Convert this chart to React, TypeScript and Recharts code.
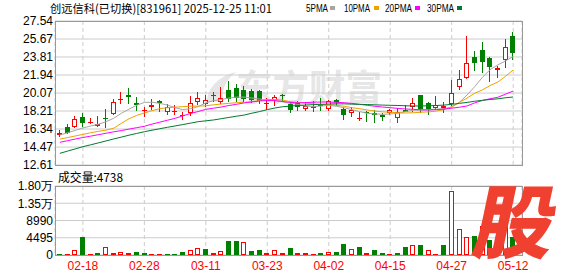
import React from "react";
import { Bar, CartesianGrid, ComposedChart, Line, XAxis, YAxis } from "recharts";

// daily candles
const opens = [15.69, 16.52, 16.58, 17.55, 16.99, 16.62, 17.47, 17.87, 19.4, 19.89, 19.07, 18.26, 18.59, 19.21, 18.14, 18.19, 17.76, 17.97, 19.15, 18.95, 19.82, 19.12, 20.39, 20.56, 20.36, 20.33, 20.28, 18.99, 19.35, 19.82, 18.92, 19.02, 18.45, 18.55, 18.85, 18.45, 19.35, 18.39, 17.97, 17.46, 18.14, 17.97, 17.79, 17.97, 17.45, 18.31, 18.59, 19.87, 19.01, 18.55, 18.49, 18.97, 20.73, 21.6, 23.78, 24.53, 23.74, 22.43, 23.46, 25.98];
const highs = [16.24, 16.83, 17.72, 17.97, 17.45, 17.65, 18.39, 19.5, 20.18, 20.63, 19.63, 18.66, 19.42, 19.35, 18.93, 18.83, 18.15, 19.72, 20.18, 19.87, 20.21, 20.65, 21.32, 21.05, 20.8, 20.45, 20.39, 19.6, 19.9, 20.02, 19.17, 19.22, 19.17, 19.25, 19.53, 19.4, 19.49, 18.59, 18.62, 18.14, 18.24, 18.31, 18.03, 18.39, 18.49, 18.83, 19.56, 19.87, 19.14, 19.76, 19.1, 21.42, 22.46, 25.98, 24.43, 25.33, 23.76, 22.91, 25.67, 26.37];
const lows = [15.48, 15.83, 16.42, 16.52, 16.86, 16.6, 16.42, 17.76, 18.97, 18.9, 18.24, 17.62, 18.28, 18.14, 17.79, 17.79, 17.32, 17.65, 18.88, 18.62, 19.15, 18.95, 19.19, 19.15, 19.1, 19.0, 18.9, 18.31, 18.7, 19.17, 17.97, 18.2, 18.18, 18.1, 18.26, 18.26, 18.7, 17.28, 17.62, 17.21, 17.1, 17.0, 17.21, 17.79, 17.0, 18.1, 18.07, 17.95, 17.79, 18.35, 18.05, 18.75, 20.39, 21.53, 22.39, 22.12, 21.18, 21.66, 22.7, 23.5];
const closes = [15.9, 15.9, 17.41, 16.99, 17.02, 16.83, 17.43, 19.11, 19.43, 19.66, 18.86, 18.3, 18.86, 19.01, 18.66, 18.23, 17.8, 19.01, 19.56, 19.4, 19.78, 19.59, 19.5, 19.6, 19.5, 19.38, 19.2, 19.03, 19.63, 19.78, 18.35, 18.6, 18.76, 18.74, 18.81, 19.28, 19.14, 17.79, 18.31, 17.5, 17.97, 17.78, 17.55, 18.31, 18.14, 18.14, 19.01, 18.39, 18.39, 18.83, 18.76, 20.08, 21.52, 23.15, 23.15, 23.32, 22.8, 22.64, 24.81, 24.19];

const ma5 = [15.72, 15.95, 16.2, 16.45, 16.65, 16.83, 17.1, 17.45, 17.97, 18.4, 18.8, 19.1, 19.12, 19.0, 18.83, 18.55, 18.35, 18.45, 18.66, 19.05, 19.28, 19.4, 19.55, 19.65, 19.65, 19.55, 19.45, 19.35, 19.28, 19.15, 19.01, 18.88, 18.72, 18.66, 18.72, 18.8, 18.7, 18.55, 18.35, 18.15, 17.97, 17.9, 17.87, 17.9, 17.97, 18.15, 18.28, 18.31, 18.35, 18.4, 18.45, 18.6, 19.11, 19.87, 20.73, 21.7, 22.5, 22.98, 23.4, 23.85];
const ma10 = [15.3, 15.45, 15.62, 15.78, 15.95, 16.1, 16.22, 16.42, 16.93, 17.4, 17.75, 18.0, 18.25, 18.45, 18.55, 18.6, 18.66, 18.7, 18.72, 18.75, 18.85, 18.93, 19.0, 19.07, 19.12, 19.17, 19.3, 19.4, 19.4, 19.35, 19.17, 19.1, 19.02, 18.95, 18.9, 18.85, 18.8, 18.7, 18.55, 18.45, 18.32, 18.2, 18.12, 18.08, 18.02, 18.0, 18.03, 18.08, 18.12, 18.2, 18.35, 18.66, 19.1, 19.55, 20.05, 20.4, 20.85, 21.2, 21.8, 22.46];
const ma20 = [14.96, 15.13, 15.3, 15.46, 15.6, 15.75, 15.9, 16.05, 16.18, 16.33, 16.48, 16.62, 16.85, 17.05, 17.25, 17.45, 17.7, 17.95, 18.15, 18.38, 18.5, 18.62, 18.78, 18.9, 19.05, 19.15, 19.25, 19.3, 19.28, 19.2, 19.1, 19.05, 19.08, 19.12, 19.14, 19.14, 19.1, 19.07, 19.0, 18.9, 18.8, 18.7, 18.62, 18.55, 18.48, 18.42, 18.38, 18.33, 18.31, 18.35, 18.4, 18.5, 18.6, 18.73, 19.05, 19.3, 19.48, 19.63, 19.95, 20.28];
const ma30 = [13.82, 14.05, 14.28, 14.51, 14.7, 14.9, 15.1, 15.31, 15.5, 15.7, 15.88, 16.06, 16.22, 16.37, 16.52, 16.66, 16.8, 16.95, 17.1, 17.19, 17.28, 17.41, 17.54, 17.67, 17.79, 17.98, 18.15, 18.35, 18.52, 18.65, 18.72, 18.78, 18.83, 18.87, 18.9, 18.93, 18.95, 18.95, 18.92, 18.9, 18.88, 18.85, 18.82, 18.8, 18.78, 18.75, 18.73, 18.73, 18.75, 18.78, 18.82, 18.9, 19.0, 19.1, 19.22, 19.32, 19.4, 19.47, 19.58, 19.66];

const volumes = [300, 300, 1300, 4650, 300, 520, 2000, 520, 780, 520, 780, 520, 300, 300, 300, 300, 780, 1300, 1740, 1560, 520, 1040, 3650, 3650, 3390, 1040, 1300, 520, 1300, 520, 1820, 520, 520, 300, 520, 780, 780, 2870, 1480, 2080, 520, 1300, 520, 300, 520, 2080, 2520, 2600, 1300, 300, 2600, 16600, 6700, 4600, 5000, 7500, 3900, 2500, 14000, 4738];
// 1 = red (up vs previous close), 0 = green
const volUp = [0, 1, 1, 0, 1, 0, 1, 1, 1, 1, 0, 0, 1, 1, 0, 0, 0, 1, 1, 0, 1, 1, 0, 0, 1, 0, 0, 1, 1, 1, 0, 1, 1, 1, 0, 1, 0, 0, 1, 0, 1, 0, 0, 1, 0, 0, 1, 0, 1, 1, 0, 1, 1, 1, 0, 1, 0, 0, 1, 0];

const tickIdx = [3, 11, 19, 27, 35, 43, 51, 59];
const tickLabels = ["02-18", "02-28", "03-11", "03-23", "04-02", "04-15", "04-27", "05-12"];
const priceTicks = [12.61, 14.47, 16.34, 18.21, 20.07, 21.94, 23.81, 25.67, 27.54];
const volTicks = [0, 4495, 8990, 13485, 17980];
const volTickLabels = ["0", "4495", "8990", "1.35万", "1.80万"];

const UP = "#ff0000";
const DOWN = "#008000";
const GRID = "#cccccc";
const axisFont = { fontSize: 12, fill: "#000", fontFamily: "Liberation Sans, Arial, sans-serif" };
const cjk = "'Noto Sans CJK SC', sans-serif";

const rows = opens.map((o, i) => ({
  i,
  open: o,
  high: highs[i],
  low: lows[i],
  close: closes[i],
  ma5: ma5[i],
  ma10: ma10[i],
  ma20: ma20[i],
  ma30: ma30[i],
  vol: volumes[i],
  up: volUp[i] === 1,
}));

function Candle(props: any) {
  const { x, y, width, height, payload } = props;
  const { open, close, high, low } = payload;
  const top = Math.min(y, y + height);
  const h = Math.abs(height);
  const py = (p: number) => top + ((high - p) / (high - low)) * h;
  const c = Math.floor(x + width / 2);
  const up = close >= open;
  const color = up ? UP : DOWN;
  const bt = Math.round(py(Math.max(open, close)));
  const bb = Math.round(py(Math.min(open, close)));
  return (
    <g>
      <line x1={c + 0.5} x2={c + 0.5} y1={Math.round(top)} y2={Math.round(top + h)} stroke={color} />
      {up && bb - bt >= 2 ? (
        <rect x={c - 1.5} y={bt + 0.5} width={4} height={bb - bt - 1} fill="#fff" stroke={color} />
      ) : (
        <rect x={c - 2} y={bt} width={5} height={Math.max(bb - bt, 1)} fill={color} />
      )}
    </g>
  );
}

function VolBar(props: any) {
  const { x, y, width, height, payload } = props;
  const c = Math.floor(x + width / 2);
  const top = Math.round(y);
  const bottom = Math.round(y + height);
  const h = Math.max(bottom - top, 1);
  if (payload.up && h >= 3) {
    return <rect x={c - 1.5} y={top + 0.5} width={4} height={h - 1} fill="#fff" stroke={UP} />;
  }
  return <rect x={c - 2} y={bottom - h} width={5} height={h} fill={payload.up ? UP : DOWN} />;
}

const legend = [
  { label: "5PMA", x: 306, w: 22, sq: 330, color: "#a6a6a6" },
  { label: "10PMA", x: 344, w: 26, sq: 374, color: "#f0a000" },
  { label: "20PMA", x: 385, w: 27, sq: 415, color: "#ff00ff" },
  { label: "30PMA", x: 427, w: 27, sq: 457, color: "#007a30" },
];

export default function App() {
  return (
    <div style={{ position: "fixed", left: 0, top: 0, width: 578, height: 276, background: "#fff", overflow: "hidden" }}>
      <svg width={578} height={276} style={{ position: "absolute", left: 0, top: 0 }}>
        <path d="M207 102 C 207 88, 219 76, 236 72 C 226 80, 221 90, 223 102 Z" fill="#e6e6e6" />
        <text x={236} y={101} fontSize={36} fontWeight={700} fill="#e6e6e6" fontFamily={cjk} textLength={146} lengthAdjust="spacingAndGlyphs">
          东方财富
        </text>
      </svg>

      <div style={{ position: "absolute", left: 0, top: 0 }}>
        <ComposedChart width={578} height={178} data={rows} margin={{ top: 21, right: 56, left: 0, bottom: 13 }}>
          <CartesianGrid vertical={false} stroke={GRID} />
          <CartesianGrid horizontal={false} stroke={GRID} strokeDasharray="4 3" />
          <XAxis dataKey="i" type="category" hide ticks={tickIdx} interval={0} padding={{ left: 1, right: 5 }} />
          <YAxis
            domain={[12.61, 27.54]}
            ticks={priceTicks}
            interval={0}
            allowDataOverflow
            width={55}
            axisLine={false}
            tickLine={false}
            tickSize={0}
            tickMargin={2}
            tick={axisFont}
            tickFormatter={(v: number) => v.toFixed(2)}
          />
          <Bar dataKey={(d: any) => [d.low, d.high]} barSize={5} shape={Candle} isAnimationActive={false} />
          <Line dataKey="ma5" stroke="#a6a6a6" strokeWidth={1} dot={false} activeDot={false} isAnimationActive={false} />
          <Line dataKey="ma10" stroke="#f0a000" strokeWidth={1} dot={false} activeDot={false} isAnimationActive={false} />
          <Line dataKey="ma20" stroke="#ff00ff" strokeWidth={1} dot={false} activeDot={false} isAnimationActive={false} />
          <Line dataKey="ma30" stroke="#007a30" strokeWidth={1} dot={false} activeDot={false} isAnimationActive={false} />
        </ComposedChart>
      </div>

      <div style={{ position: "absolute", left: 0, top: 170 }}>
        <ComposedChart width={578} height={106} data={rows} margin={{ top: 16, right: 56, left: 0, bottom: 0 }}>
          <CartesianGrid vertical={false} stroke={GRID} />
          <CartesianGrid horizontal={false} stroke={GRID} strokeDasharray="4 3" />
          <XAxis
            dataKey="i"
            type="category"
            padding={{ left: 1, right: 5 }}
            ticks={tickIdx}
            interval={0}
            height={21}
            axisLine={false}
            tickLine={false}
            tickSize={0}
            tickMargin={6}
            tick={{ ...axisFont, fill: UP }}
            tickFormatter={(v: number) => tickLabels[tickIdx.indexOf(v)]}
          />
          <YAxis
            domain={[0, 17980]}
            ticks={volTicks}
            interval={0}
            allowDataOverflow
            width={55}
            axisLine={false}
            tickLine={false}
            tickSize={0}
            tickMargin={2}
            tick={axisFont}
            tickFormatter={(v: number) => volTickLabels[volTicks.indexOf(v)]}
          />
          <Bar dataKey="vol" barSize={5} shape={VolBar} isAnimationActive={false} />
        </ComposedChart>
      </div>

      <svg width={578} height={276} style={{ position: "absolute", left: 0, top: 0, pointerEvents: "none" }}>
        <rect x={55.5} y={21.5} width={467} height={144} fill="none" stroke="#999" />
        <rect x={55.5} y={186.5} width={467} height={69} fill="none" stroke="#999" />
        <text x={50} y={12.5} fontSize={11.5} fill="#000" fontFamily={cjk} textLength={222} lengthAdjust="spacingAndGlyphs">
          创远信科(已切换)[831961] 2025-12-25 11:01
        </text>
        {legend.map((l) => (
          <g key={l.label}>
            <text x={l.x} y={12} fontSize={10} fill="#000" fontFamily="Liberation Sans, Arial, sans-serif" textLength={l.w} lengthAdjust="spacingAndGlyphs">
              {l.label}
            </text>
            <rect x={l.sq} y={6} width={5} height={4} fill={l.color} />
          </g>
        ))}
        <text x={58} y={181.5} fontSize={12} fill="#000" fontFamily={cjk} textLength={65} lengthAdjust="spacingAndGlyphs">
          成交量:4738
        </text>
        <g transform="translate(470,252) skewX(-12)">
          <text x={0} y={0} fontSize={80} fontWeight={900} fill="#ef4030" fontFamily={cjk}>
            股
          </text>
        </g>
      </svg>
    </div>
  );
}
